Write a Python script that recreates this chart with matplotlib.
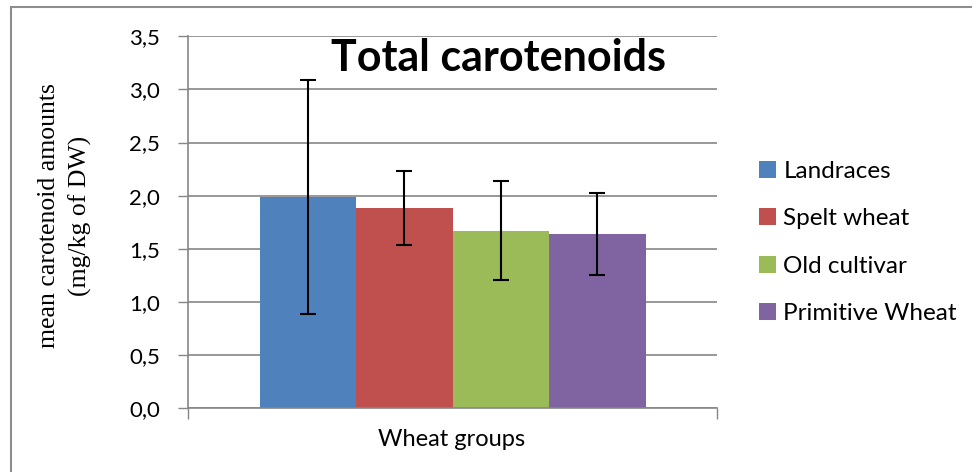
import matplotlib
matplotlib.use("Agg")
import matplotlib.pyplot as plt
from matplotlib.patches import Rectangle

groups = ["Landraces", "Spelt wheat", "Old cultivar", "Primitive Wheat"]
means = [1.99, 1.886, 1.67, 1.64]
errors = [1.10, 0.35, 0.465, 0.385]
colors = ["#4F81BD", "#C0504D", "#9BBB59", "#8064A2"]
yticks = [0.0, 0.5, 1.0, 1.5, 2.0, 2.5, 3.0, 3.5]
ytick_labels = ["0,0", "0,5", "1,0", "1,5", "2,0", "2,5", "3,0", "3,5"]
category = "Wheat groups"
title = "Total carotenoids"
ylabel = "mean carotenoid amounts\n(mg/kg of DW)"

W, H = 972, 472
fig = plt.figure(figsize=(W / 100, H / 100), dpi=100)
ax = fig.add_axes([188 / W, 1 - 408.3 / H, (717.3 - 188) / W, (408.3 - 36.2) / H])

grid_c = "#868686"
offsets = [-1.5, -0.5, 0.5, 1.5]
for off, m, e, c, g in zip(offsets, means, errors, colors, groups):
    ax.bar(off, m, width=1.0, color=c, label=g, zorder=2, linewidth=0)
    ax.errorbar(off, m, yerr=e, fmt="none", ecolor="black", elinewidth=1.5,
                capsize=6, capthick=1.5, zorder=3)

ax.set_ylim(0, 3.5)
half = 4 / 2 * (717.3 - 188) / (646 - 260)
ax.set_xlim(-half, half)
ax.set_yticks(yticks)
ax.set_yticklabels(ytick_labels, fontfamily="Lato", fontsize=16)
ax.set_xticks([-half, half])
ax.set_xticklabels(["", ""])
ax.tick_params(axis="y", length=7, width=1, color=grid_c, pad=13)
ax.tick_params(axis="x", length=8, width=1, color=grid_c)
ax.yaxis.grid(True, color=grid_c, linewidth=1.2, zorder=0)
ax.set_axisbelow(True)
for s in ["top", "right"]:
    ax.spines[s].set_visible(False)
for s in ["left", "bottom"]:
    ax.spines[s].set_color(grid_c)
    ax.spines[s].set_linewidth(1.2)

ax.text(0.0 + (498 - 452.65) / (717.3 - 188) * 2 * half, 3.5 - (58 - 36.2) / (408.3 - 36.2) * 3.5,
        title, ha="center", va="center", fontsize=31, fontweight="bold",
        fontfamily="Lato")

fig.text(452 / W, 1 - 440 / H, category, ha="center", va="center",
         fontsize=17, fontfamily="Lato")
fig.text(65 / W, 1 - 216 / H, ylabel, ha="center", va="center", rotation=90,
         fontsize=18.5, fontfamily="Liberation Serif", linespacing=1.45)

leg = fig.legend(loc="upper left", bbox_to_anchor=(759 / W, 1 - 161 / H),
                 frameon=False, prop={"family": "Lato", "size": 17.5},
                 handlelength=0.7, handleheight=0.7, handletextpad=0.3,
                 labelspacing=1.08, borderaxespad=0, borderpad=0)

fig.patches.append(Rectangle((11 / W, -0.1), 1.2, 1 - 7 / H + 0.1,
                             transform=fig.transFigure, fill=False,
                             edgecolor="#8c8c8c", linewidth=1.5))

fig.savefig("out.png", dpi=100)
